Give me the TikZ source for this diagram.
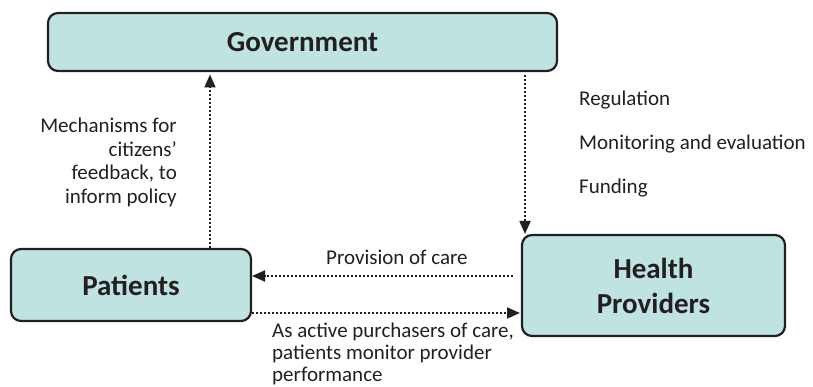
\documentclass[tikz,border=0pt]{standalone}
\usepackage{fontspec}
\setmainfont{Carlito}
\usetikzlibrary{arrows.meta}
\definecolor{boxfill}{RGB}{190,227,224}
\definecolor{ink}{RGB}{35,31,32}
\tikzset{
  actor/.style={draw=ink, fill=boxfill, line width=2.2pt, rounded corners=10pt,
    inner sep=0pt, align=center, text=ink,
    font=\fontsize{29}{35}\selectfont\bfseries},
  flow/.style={draw=ink, line width=1.8pt, dash pattern=on 2pt off 2pt,
    -{Triangle[length=13pt,width=11pt]}},
  lbl/.style={inner sep=0pt, text=ink, font=\fontsize{21}{23.5}\selectfont}
}
\begin{document}
\begin{tikzpicture}[x=1pt,y=-1pt]
\useasboundingbox (0,0) rectangle (813,387);
\node[actor, minimum width=509pt, minimum height=58pt] (gov) at (302.5,42) {Government};
\node[actor, minimum width=240pt, minimum height=72pt] (pat) at (131,285) {Patients};
\node[actor, minimum width=263pt, minimum height=101pt] (hp) at (653.5,285.5) {Health\\Providers};

\coordinate (upS) at (210,248);
\coordinate (upE) at (210,73);
\draw[flow, shorten >=1.5pt] (upS) -- (upE);
\coordinate (dnS) at (525,73);
\coordinate (dnE) at (525,234);
\draw[flow, shorten <=2pt] (dnS) -- (dnE);
\coordinate (lfS) at (521,276);
\coordinate (lfE) at (252,276);
\draw[flow, shorten <=8pt] (lfS) -- (lfE);
\coordinate (rtS) at (252,313);
\coordinate (rtE) at (520,313);
\draw[flow] (rtS) -- (rtE);

\node[lbl, anchor=base east, align=right] (mech) at (177,203.5)
  {Mechanisms for\\citizens’\\feedback, to\\inform policy};
\node[lbl, anchor=base west] (reg) at (579,106) {Regulation};
\node[lbl, anchor=base west] (mon) at (579,150) {Monitoring and evaluation};
\node[lbl, anchor=base west] (fund) at (579,194) {Funding};
\node[lbl, anchor=base west] (prov) at (326,264) {Provision of care};
\node[lbl, anchor=base west, align=left, font=\fontsize{21}{22}\selectfont] (purch) at (272,381.5)
  {As active purchasers of care,\\patients monitor provider\\performance};
\end{tikzpicture}
\end{document}
